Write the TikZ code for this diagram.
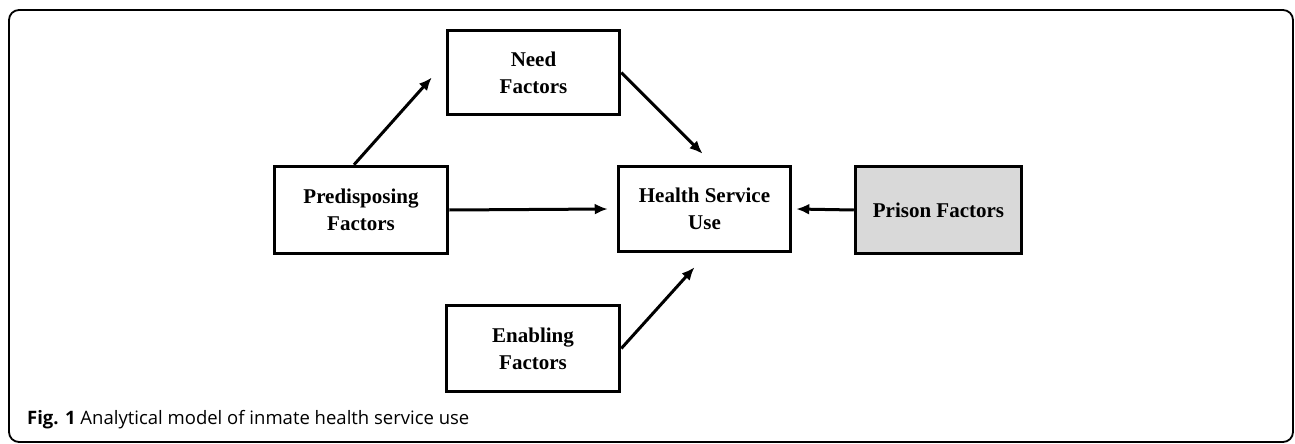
\documentclass[tikz,border=0pt]{standalone}
\usepackage{fontspec}
\setmainfont{Liberation Serif}
\newfontfamily\capfont{Open Sans}
\usetikzlibrary{arrows.meta,calc}
\definecolor{boxgray}{HTML}{D9D9D9}
\tikzset{
  fbox/.style={draw=black, line width=3.5pt, align=center, inner sep=0pt,
    font=\fontsize{21}{27}\selectfont\bfseries},
  arr/.style={line width=3pt, -{Latex[length=13pt,width=11pt]}},
  frame/.style={line width=1.8pt, rounded corners=10pt}
}
\begin{document}
\begin{tikzpicture}[x=1pt,y=-1pt]
\useasboundingbox (0,0) rectangle (1295,444);
\draw[frame] (9,10) rectangle (1293,442);
\node[fbox, minimum width=173pt, minimum height=87pt] (pred) at (361,210) {Predisposing\\Factors};
\node[fbox, minimum width=172pt, minimum height=84pt] (need) at (533.5,72.5) {Need\\Factors};
\node[fbox, minimum width=172pt, minimum height=85pt] (health) at (704.5,209) {Health Service\\Use};
\node[fbox, fill=boxgray, minimum width=166pt, minimum height=87pt] (prison) at (938.5,210) {Prison Factors};
\node[fbox, minimum width=173pt, minimum height=86pt] (enab) at (533,348.5) {Enabling\\Factors};
\draw[arr] ($(pred.north)+(-7,0)$) -- ($(need.west)+(-14,5)$);
\draw[arr] (need.east) -- ($(health.north)+(-2,-11)$);
\draw[arr] (pred.east) -- ($(health.west)+(-9,0)$);
\draw[arr] (enab.east) -- ($(health.south)+(-10,14)$);
\draw[arr] (prison.west) -- ($(health.east)+(4,0)$);
\node[anchor=base west, inner sep=0pt, font=\capfont\fontsize{18.5}{22}\selectfont] (cap) at (27,424) {\textbf{Fig. 1} Analytical model of inmate health service use};
\end{tikzpicture}
\end{document}
